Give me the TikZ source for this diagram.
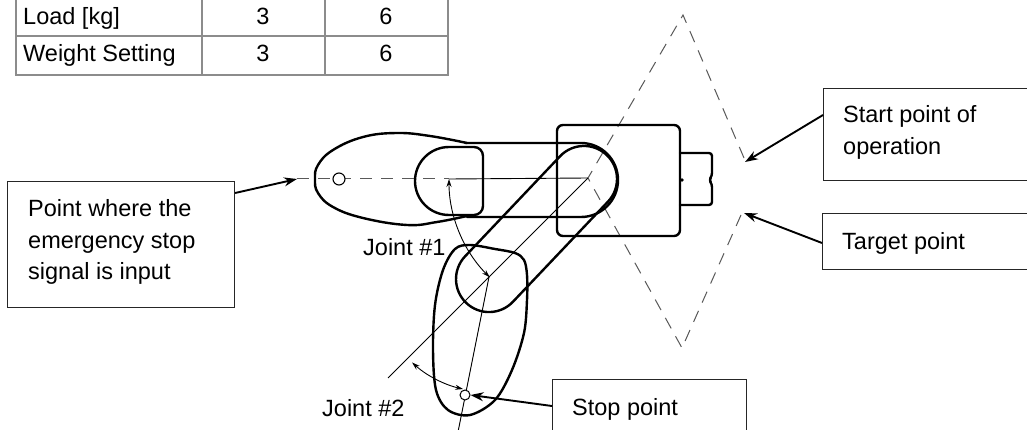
\documentclass[tikz,border=0pt]{standalone}
\usepackage{fontspec}
\setmainfont{Liberation Sans}
\usetikzlibrary{arrows.meta,calc}
\begin{document}
\begin{tikzpicture}[x=1pt,y=-1pt,
  txt/.style={font=\fontsize{23.5}{31}\selectfont, inner sep=0pt, anchor=base west, text=black},
  ctxt/.style={txt, anchor=base},
  lbox/.style={draw=black!85, line width=1.1pt, inner sep=0pt, anchor=north west},
  outl/.style={line width=2.4pt, line join=round, line cap=round},
  thinl/.style={line width=0.9pt},
  dsh/.style={draw=black!65, line width=1pt, dash pattern=on 12pt off 9pt},
  larrow/.style={line width=1.9pt, -{Stealth[length=13pt,width=9pt]}},
  jarrow/.style={line width=0.9pt, {Stealth[length=8pt,width=5pt]}-{Stealth[length=8pt,width=5pt]}},
  tabline/.style={draw=black!45, line width=1.2pt}]
\useasboundingbox (0,0) rectangle (1027,430);
\fill[white] (0,0) rectangle (1027,430);

% ---------- table ----------
\draw[tabline] (16,-3) rectangle (448,75);
\draw[tabline] (16,36) -- (448,36);
\draw[tabline] (202,-3) -- (202,75);
\draw[tabline] (325,-3) -- (325,75);
\node[txt] (t11) at (23,25) {Load [kg]};
\node[ctxt] (t12) at (263,25) {3};
\node[ctxt] (t13) at (386,25) {6};
\node[txt] (t21) at (23,62) {Weight Setting};
\node[ctxt] (t22) at (263,62) {3};
\node[ctxt] (t23) at (386,62) {6};

% ---------- key points ----------
\coordinate (J1) at (588,178);
\coordinate (J2) at (449,179);
\coordinate (J2b) at (489,277);
\coordinate (endA) at (339,179);
\coordinate (stopP) at (465,395);
\coordinate (topApex) at (683,15);
\coordinate (botApex) at (682,348);
\coordinate (startTip) at (745,162);
\coordinate (targetTip) at (744,213);
\coordinate (emgTip) at (297,179);

% ---------- dashed motion envelope ----------
\draw[dsh] (744,158) -- (topApex) -- (J1) -- (botApex) -- (741,215);

% ---------- base ----------
\draw[outl, rounded corners=6pt] (557,125) rectangle (680,236);
\draw[outl, rounded corners=3pt] (680,153) -- (712,153) -- (712,176) -- (709,180) -- (712,184) -- (712,205) -- (680,205);
\fill (682,180) circle (1.8);

% ---------- configuration A (horizontal) ----------
\draw[outl] (465,143) -- (581,143) arc (-90:90:37) -- (467,217);
\draw[outl] (449,147) -- (474,147) arc (-90:0:9) -- (483,206) arc (0:90:9) -- (449,215) arc (90:270:34) -- cycle;
\draw[outl] plot[smooth, tension=0.7] coordinates {(467,143) (430,136) (397,133) (363,137) (333,150) (318,165) (315,179) (318,193) (333,207) (363,218) (407,225) (437,222) (467,216)};
\draw[dsh] (emgTip) -- (J2);
\draw[thinl] (J2) -- (J1);
\draw[line width=1.1pt, fill=white] (endA) circle (6);

% ---------- configuration B (stopped) ----------
\node[draw, outl, rounded corners=33pt, minimum width=204pt, minimum height=66pt, inner sep=0pt, rotate=46.5] (armB) at (536.5,229) {};
\draw[outl] plot[smooth cycle, tension=0.55] coordinates {(470,245) (495,249) (515,253) (524,260) (527,275) (527,300) (524,333) (512,370) (495,400) (470,415) (448,410) (436,390) (433,350) (435,305) (443,270) (455,249)};
\draw[thinl] (J1) -- (388,378);
\draw[thinl] (J2b) -- (458,432);
\draw[line width=1pt, fill=white] (stopP) circle (5);

% ---------- joint arrows ----------
\draw[jarrow] (J2) arc (180:135:139);
\draw[jarrow] ($(J2b)+(132:115)$) arc (132:103:115);
\node[txt] (j1) at (363,255) {Joint \#1};
\node[txt] (j2) at (322,416) {Joint \#2};

% ---------- label boxes ----------
\node[lbox, minimum width=227pt, minimum height=126pt] (emgbox) at (7,181) {};
\node[txt] (e1) at (28,217) {Point where the};
\node[txt] (e2) at (28,248) {emergency stop};
\node[txt] (e3) at (28,279) {signal is input};
\draw[larrow] ($(emgbox.north east)+(0,12)$) -- (emgTip);

\node[lbox, minimum width=230pt, minimum height=92pt] (startbox) at (823,88) {};
\node[txt] (s1) at (843,123) {Start point of};
\node[txt] (s2) at (843,155) {operation};
\draw[larrow] ($(startbox.north west)+(0,27)$) -- (startTip);

\node[lbox, minimum width=230pt, minimum height=56pt] (targetbox) at (822,213) {};
\node[txt] (tg) at (842,249) {Target point};
\draw[larrow] ($(targetbox.north west)+(0,30)$) -- (targetTip);

\node[lbox, minimum width=194pt, minimum height=70pt] (stopbox) at (552,379) {};
\node[txt] (sp) at (572,415) {Stop point};
\draw[larrow] ($(stopbox.north west)+(0,27)$) -- (470.5,395);
\end{tikzpicture}
\end{document}
